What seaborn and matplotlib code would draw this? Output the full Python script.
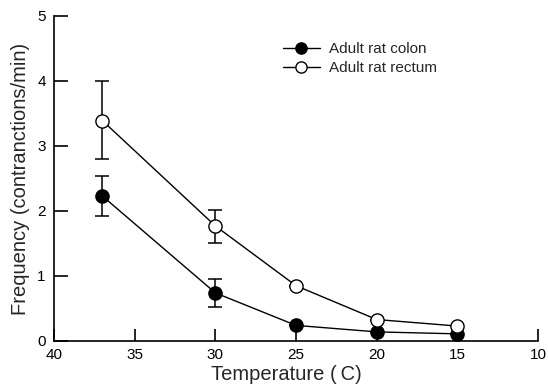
import matplotlib
matplotlib.use("Agg")
import matplotlib.pyplot as plt
import seaborn as sns
import pandas as pd

temperature = [37, 30, 25, 20, 15]
colon = [2.23, 0.74, 0.24, 0.14, 0.11]
colon_err_hi = [2.54, 0.95, 0.24, 0.14, 0.11]
colon_err_lo = [1.92, 0.53, 0.24, 0.14, 0.11]
rectum = [3.39, 1.77, 0.85, 0.33, 0.23]
rectum_err_hi = [4.00, 2.02, 0.85, 0.33, 0.23]
rectum_err_lo = [2.80, 1.50, 0.85, 0.33, 0.23]
x_ticks = [40, 35, 30, 25, 20, 15, 10]
y_ticks = [0, 1, 2, 3, 4, 5]

sns.set_style("ticks")
plt.rcParams['font.family'] = ['Liberation Sans', 'DejaVu Sans']

fig = plt.figure(figsize=(5.48, 3.89), dpi=100)
ax = fig.add_axes([0.0985, 0.1234, 0.8835, 0.8355])

df_c = pd.DataFrame({"T": temperature, "F": colon})
df_r = pd.DataFrame({"T": temperature, "F": rectum})

def draw_err(vals, hi, lo):
    yerr = [[v - l for v, l in zip(vals, lo)], [h - v for v, h in zip(vals, hi)]]
    ax.errorbar(temperature, vals, yerr=yerr, fmt='none', ecolor='black',
                elinewidth=1.1, capsize=4.7, capthick=1.1, zorder=2)

draw_err(colon, colon_err_hi, colon_err_lo)
draw_err(rectum, rectum_err_hi, rectum_err_lo)

sns.lineplot(data=df_c, x="T", y="F", ax=ax, color='black', lw=1.0,
             marker='o', markersize=9.5, markerfacecolor='black',
             markeredgecolor='black', markeredgewidth=1.0,
             label='Adult rat colon', zorder=3)
sns.lineplot(data=df_r, x="T", y="F", ax=ax, color='black', lw=1.0,
             marker='o', markersize=9.5, markerfacecolor='white',
             markeredgecolor='black', markeredgewidth=1.0,
             label='Adult rat rectum', zorder=3)

ax.set_xlim(40, 10)
ax.set_ylim(0, 5)
ax.set_xticks(x_ticks)
ax.set_yticks(y_ticks)
ax.set_xticklabels([str(t) for t in x_ticks], fontsize=11)
ax.set_yticklabels([str(t) for t in y_ticks], fontsize=11)
ax.tick_params(direction='in', width=1.2, colors='black')
ax.tick_params(axis='x', length=8.5, pad=5)
ax.tick_params(axis='y', length=10, pad=6)
for s in ['top', 'right']:
    ax.spines[s].set_visible(False)
for s in ['left', 'bottom']:
    ax.spines[s].set_linewidth(1.2)
    ax.spines[s].set_color('black')

ax.set_xlabel('Temperature (\u2009C)', fontsize=14.5)
ax.set_ylabel('Frequency (contranctions/min)', fontsize=14.5)
ax.xaxis.set_label_coords(0.48, -0.075)
ax.yaxis.set_label_coords(-0.05, 0.5)

leg = ax.legend(loc='upper left', bbox_to_anchor=(0.473, 0.92), frameon=False,
                fontsize=11, handlelength=2.4, handletextpad=0.6,
                labelspacing=0.35, markerscale=0.85, borderpad=0,
                borderaxespad=0)

fig.savefig('out.png', dpi=100)
